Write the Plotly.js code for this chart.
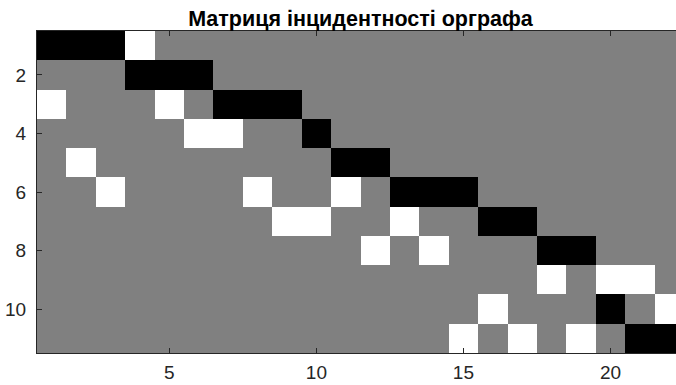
<!DOCTYPE html>
<html>
<head>
<meta charset="utf-8">
<script src="https://cdn.plot.ly/plotly-3.0.1.min.js"></script>
<style>
html, body { margin: 0; padding: 0; overflow: hidden; background: #fff; }
#chart { width: 700px; height: 385px; }
</style>
</head>
<body>
<div id="chart"></div>
<script>
// Edges (columns) and vertices (rows)
const edges = Array.from({length: 22}, (_, i) => i + 1);
const vertices = Array.from({length: 11}, (_, i) => i + 1);
// -1 = edge leaves vertex (black), 1 = edge enters vertex (white), 0 = gray
const row1  = [-1,-1,-1, 1, 0, 0, 0, 0, 0, 0, 0, 0, 0, 0, 0, 0, 0, 0, 0, 0, 0, 0];
const row2  = [ 0, 0, 0,-1,-1,-1, 0, 0, 0, 0, 0, 0, 0, 0, 0, 0, 0, 0, 0, 0, 0, 0];
const row3  = [ 1, 0, 0, 0, 1, 0,-1,-1,-1, 0, 0, 0, 0, 0, 0, 0, 0, 0, 0, 0, 0, 0];
const row4  = [ 0, 0, 0, 0, 0, 1, 1, 0, 0,-1, 0, 0, 0, 0, 0, 0, 0, 0, 0, 0, 0, 0];
const row5  = [ 0, 1, 0, 0, 0, 0, 0, 0, 0, 0,-1,-1, 0, 0, 0, 0, 0, 0, 0, 0, 0, 0];
const row6  = [ 0, 0, 1, 0, 0, 0, 0, 1, 0, 0, 1, 0,-1,-1,-1, 0, 0, 0, 0, 0, 0, 0];
const row7  = [ 0, 0, 0, 0, 0, 0, 0, 0, 1, 1, 0, 0, 1, 0, 0,-1,-1, 0, 0, 0, 0, 0];
const row8  = [ 0, 0, 0, 0, 0, 0, 0, 0, 0, 0, 0, 1, 0, 1, 0, 0, 0,-1,-1, 0, 0, 0];
const row9  = [ 0, 0, 0, 0, 0, 0, 0, 0, 0, 0, 0, 0, 0, 0, 0, 0, 0, 1, 0, 1, 1, 0];
const row10 = [ 0, 0, 0, 0, 0, 0, 0, 0, 0, 0, 0, 0, 0, 0, 0, 1, 0, 0, 0,-1, 0, 1];
const row11 = [ 0, 0, 0, 0, 0, 0, 0, 0, 0, 0, 0, 0, 0, 0, 1, 0, 1, 0, 1, 0,-1,-1];
const incidence = [row1,row2,row3,row4,row5,row6,row7,row8,row9,row10,row11];
const xTicks = [5, 10, 15, 20];
const yTicks = [2, 4, 6, 8, 10];
const titleText = 'Матриця інцидентності орграфа';

const axisColor = '#262626';
const font = 'Liberation Sans, Arial, sans-serif';

const trace = {
  type: 'heatmap',
  x: edges,
  y: vertices,
  z: incidence,
  zmin: -1, zmax: 1,
  colorscale: [[0, '#000000'], [0.5, '#808080'], [1, '#ffffff']],
  showscale: false,
  xgap: 0, ygap: 0,
  hoverinfo: 'x+y+z'
};

const layout = {
  width: 700, height: 385,
  margin: {l: 37, r: 16, t: 31, b: 32},
  paper_bgcolor: '#ffffff',
  plot_bgcolor: '#ffffff',
  font: {family: font, color: axisColor, size: 19},
  title: {
    text: '<b>' + titleText + '</b>',
    font: {family: font, size: 21.5, color: '#000000'},
    x: 0.5, xref: 'paper', xanchor: 'center',
    y: 1, yref: 'paper', yanchor: 'bottom', pad: {b: 5}
  },
  xaxis: {
    range: [0.5, 22.5],
    tickvals: xTicks,
    ticks: 'inside', ticklen: 5, tickwidth: 1, tickcolor: axisColor,
    showline: true, linecolor: axisColor, linewidth: 1,
    mirror: 'allticks',
    showgrid: false, zeroline: false,
    ticklabelstandoff: 2,
    tickfont: {family: font, size: 19, color: axisColor}
  },
  yaxis: {
    range: [11.5, 0.5],
    tickvals: yTicks,
    ticks: 'inside', ticklen: 5, tickwidth: 1, tickcolor: axisColor,
    showline: true, linecolor: axisColor, linewidth: 1,
    mirror: 'allticks',
    showgrid: false, zeroline: false,
    ticklabelstandoff: 6,
    tickfont: {family: font, size: 19, color: axisColor}
  },
  showlegend: false
};

Plotly.newPlot('chart', [trace], layout, {displayModeBar: false, staticPlot: true});
</script>
</body>
</html>
